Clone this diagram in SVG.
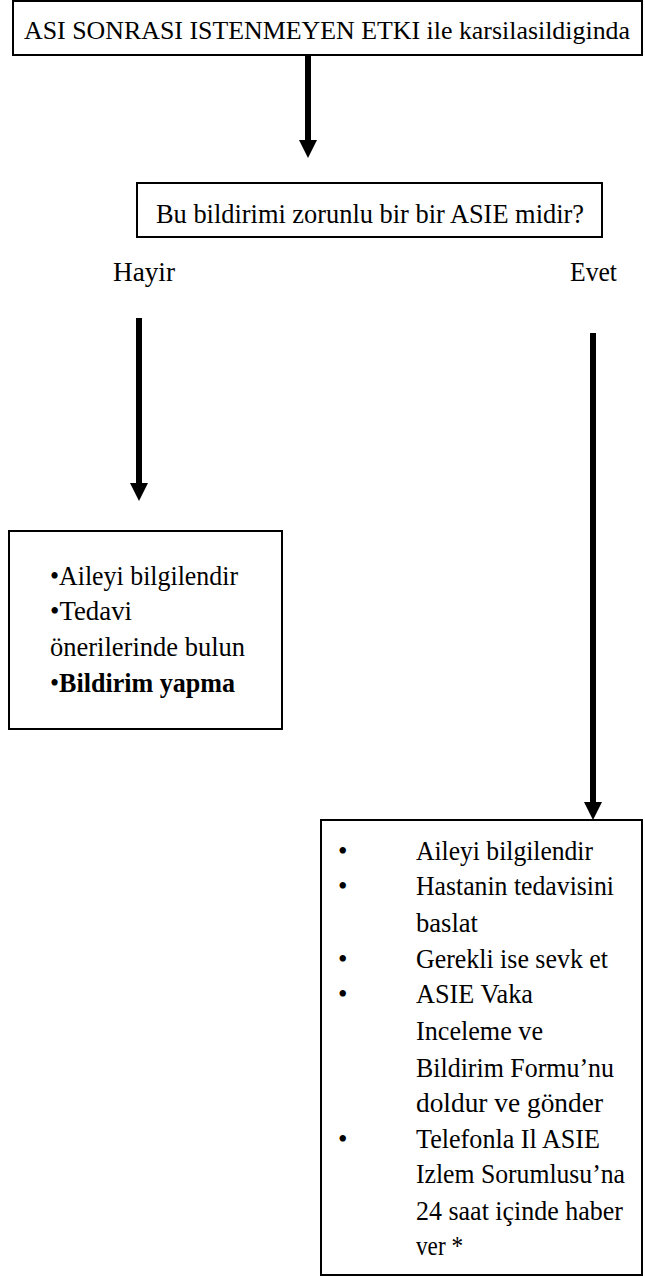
<svg xmlns="http://www.w3.org/2000/svg" width="645" height="1277" viewBox="0 0 645 1277">
<style>
.box{fill:#fff;stroke:#000;stroke-width:2}
.t{font-family:"Liberation Serif","Times New Roman",serif;fill:#000}
.ln{stroke:#000;stroke-width:6;fill:none}
.ah{fill:#000}
</style>
<rect width="645" height="1277" fill="#fff"/>
<g id="connectors">
<line class="ln" x1="308" y1="55" x2="308" y2="142"/>
<polygon class="ah" points="299,140 317,140 308,158"/>
<line class="ln" x1="139" y1="318" x2="139" y2="485"/>
<polygon class="ah" points="130,483 148,483 139,501"/>
<line class="ln" x1="593" y1="333" x2="593" y2="804"/>
<polygon class="ah" points="584,802 602,802 593,820"/>
</g>
<g id="n1">
<rect class="box" x="13" y="1" width="629" height="54"/>
<text class="t" x="24" y="39" font-size="26" textLength="606" lengthAdjust="spacingAndGlyphs">ASI SONRASI ISTENMEYEN ETKI ile karsilasildiginda</text>
</g>
<g id="n2">
<rect class="box" x="137" y="183" width="465" height="54"/>
<text class="t" x="156" y="223" font-size="28" textLength="428" lengthAdjust="spacingAndGlyphs">Bu bildirimi zorunlu bir bir ASIE  midir?</text>
</g>
<g id="l1"><text class="t" x="113" y="281" font-size="28" textLength="62" lengthAdjust="spacingAndGlyphs">Hayir</text></g>
<g id="l2"><text class="t" x="570" y="281" font-size="28" textLength="47" lengthAdjust="spacingAndGlyphs">Evet</text></g>
<g id="n3">
<rect class="box" x="9" y="531" width="273" height="198"/>
<g class="t" font-size="27">
<text x="50" y="585" textLength="188" lengthAdjust="spacingAndGlyphs">•Aileyi bilgilendir</text>
<text x="50" y="620" textLength="82" lengthAdjust="spacingAndGlyphs">•Tedavi</text>
<text x="50" y="656" textLength="195" lengthAdjust="spacingAndGlyphs">önerilerinde bulun</text>
<text x="50" y="692" textLength="185" lengthAdjust="spacingAndGlyphs">•<tspan font-weight="bold">Bildirim yapma</tspan></text>
</g>
</g>
<g id="n4">
<rect class="box" x="321" y="820" width="321" height="455"/>
<g class="t" font-size="27">
<text x="338" y="860">•</text>
<text x="338" y="895">•</text>
<text x="338" y="968">•</text>
<text x="338" y="1003">•</text>
<text x="338" y="1148">•</text>
<text x="416" y="860" textLength="177" lengthAdjust="spacingAndGlyphs">Aileyi bilgilendir</text>
<text x="416" y="895" textLength="198" lengthAdjust="spacingAndGlyphs">Hastanin tedavisini</text>
<text x="416" y="932" textLength="62" lengthAdjust="spacingAndGlyphs">baslat</text>
<text x="416" y="968" textLength="192" lengthAdjust="spacingAndGlyphs">Gerekli ise sevk et</text>
<text x="416" y="1003" textLength="117" lengthAdjust="spacingAndGlyphs">ASIE Vaka</text>
<text x="416" y="1040" textLength="127" lengthAdjust="spacingAndGlyphs">Inceleme ve</text>
<text x="416" y="1077" textLength="198" lengthAdjust="spacingAndGlyphs">Bildirim Formu’nu</text>
<text x="416" y="1112" textLength="187" lengthAdjust="spacingAndGlyphs">doldur ve gönder</text>
<text x="416" y="1148" textLength="184" lengthAdjust="spacingAndGlyphs">Telefonla Il ASIE</text>
<text x="416" y="1183" textLength="209" lengthAdjust="spacingAndGlyphs">Izlem Sorumlusu’na</text>
<text x="416" y="1220" textLength="207" lengthAdjust="spacingAndGlyphs">24 saat içinde haber</text>
<text x="416" y="1255" textLength="47" lengthAdjust="spacingAndGlyphs">ver *</text>
</g>
</g>
</svg>
